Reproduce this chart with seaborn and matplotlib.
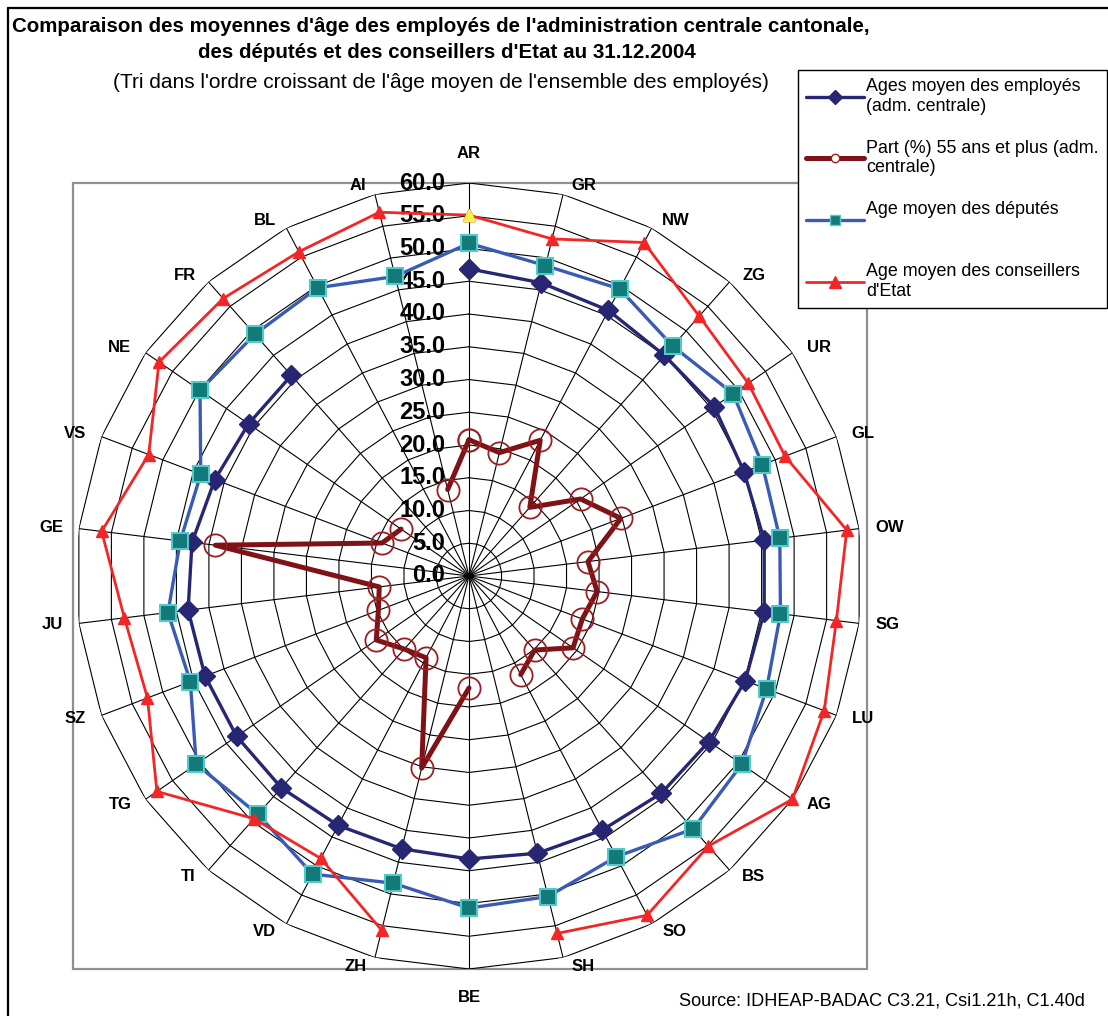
import numpy as np
import matplotlib
matplotlib.use("Agg")
import matplotlib.pyplot as plt
from matplotlib.lines import Line2D
from matplotlib.patches import Rectangle
import seaborn as sns

sns.set_theme(style="white")
plt.rcParams['font.family'] = ['Liberation Sans', 'DejaVu Sans']
plt.rcParams['text.color'] = 'black'

nan = np.nan
cantons = ["AR", "GR", "NW", "ZG", "UR", "GL", "OW", "SG", "LU", "AG", "BS", "SO", "SH",
           "BE", "ZH", "VD", "TI", "TG", "SZ", "JU", "GE", "VS", "NE", "FR", "BL", "AI"]
# age moyen des employes (adm. centrale)
employes = [46.9, 46.1, 45.8, 45.0, 45.5, 44.9, 45.4, 45.4, 45.1, 44.5, 44.3, 43.8, 43.6,
            43.2, 42.9, 43.0, 43.2, 43.1, 43.1, 43.2, 42.6, 41.5, 40.9, 40.9, nan, nan]
# part (%) 55 ans et plus (adm. centrale)
part55 = [20.8, 19.4, 23.4, 14.0, 20.7, 24.8, 18.3, 19.7, 18.5, 19.3, 15.1, 17.0, nan,
          17.1, 30.2, 14.1, 14.9, 17.2, 14.8, 13.8, 39.0, 14.2, 12.6, nan, nan, 13.6]
# age moyen des deputes
deputes = [50.8, 48.8, 49.5, 46.9, 49.0, 47.9, 47.8, 47.9, 48.6, 50.6, 51.6, 48.4, 50.4,
           50.7, 48.3, 51.4, 48.6, 50.6, 45.5, 46.3, 44.4, 43.8, 49.9, 49.3, 49.7, 47.1]
# age moyen des conseillers d'Etat
conseillers = [55.1, 53.0, 57.5, 53.0, 51.8, 51.6, 58.1, 56.5, 58.0, 60.0, 55.1, 58.5, 56.2,
               nan, 55.7, 48.7, 49.5, 57.9, 52.5, 53.0, 56.5, 52.3, 57.5, 56.6, 55.9, 57.2]
rings = [0.0, 5.0, 10.0, 15.0, 20.0, 25.0, 30.0, 35.0, 40.0, 45.0, 50.0, 55.0, 60.0]

W, H = 1108, 1016
PT = 72 / 100  # points per pixel
fig = plt.figure(figsize=(W / 100, H / 100), dpi=100)
fig.patch.set_facecolor("white")

# polar area: centre (469, 576), radius 393 px
cx, cy, R = 469, 576, 393
ax = fig.add_axes([(cx - R) / W, 1 - (cy + R) / H, 2 * R / W, 2 * R / H], projection="polar")
ax.set_theta_zero_location("N")
ax.set_theta_direction(-1)
ax.set_ylim(0, 60)
ax.spines["polar"].set_visible(False)
ax.patch.set_alpha(0)

angles = np.linspace(0, 2 * np.pi, len(cantons), endpoint=False)
th = np.append(angles, angles[0])

def closed(v):
    return np.append(v, v[0])

# web: spokes and polygon rings
ax.set_xticks(angles)
ax.set_xticklabels([])
ax.set_yticks([])
ax.xaxis.grid(True, color="black", lw=0.8)
ax.yaxis.grid(False)
for r in rings[1:]:
    ax.plot(th, [r] * len(th), color="black", lw=0.8, zorder=1)

for r in rings:
    ax.annotate(f"{r:.1f}", xy=(0, r), xytext=(-17, 0), textcoords="offset points",
                ha="right", va="center", fontsize=17, fontweight="bold", color="black",
                zorder=3)

# category labels next to the outer vertex, Excel style
for a, c in zip(angles, cantons):
    s, co = np.sin(a), np.cos(a)
    if abs(s) < 0.05:
        dx, dy, ha = 0, 29 * np.sign(co), "center"
    else:
        dx = np.sign(s) * (6 + 10 * abs(s))
        dy = 9 * co
        ha = "left" if s > 0 else "right"
    ax.annotate(c, xy=(a, 60), xytext=(dx * PT, dy * PT), textcoords="offset points",
                ha=ha, va="center", fontsize=12, fontweight="bold", annotation_clip=False)

navy = "#262673"
dred = "#7F1216"
blue = "#3A5BB5"
red = "#F22626"

ax.plot(th, closed(part55), color=dred, lw=3.6, marker="o", ms=16, mfc="none",
        mec="#9B1E22", mew=1.3, zorder=4, clip_on=False)
ax.plot(th, closed(employes), color=navy, lw=2.4, marker="D", ms=10.5, mfc=navy, mec=navy,
        zorder=5, clip_on=False)
ax.plot(th, closed(deputes), color=blue, lw=2.4, marker="s", ms=11, mfc="#127A78",
        mec="#55C8C8", mew=1.5, zorder=6, clip_on=False)
ax.plot(th, closed(conseillers), color=red, lw=2.0, marker="^", ms=9, mfc=red, mec=red,
        zorder=7, clip_on=False)
ax.plot(angles[0], conseillers[0], marker="^", ms=9, color="#F2F24A", zorder=8, clip_on=False)

# plot-area frame and outer chart border
fig.add_artist(Rectangle((73 / W, 1 - 969 / H), (867 - 73) / W, (969 - 183) / H,
                         transform=fig.transFigure, fill=False, edgecolor="#8f8f8f",
                         lw=1.6, zorder=-1))
fig.add_artist(Line2D([8 / W, 8 / W], [0, 1 - 8 / H], transform=fig.transFigure,
                      color="black", lw=1.6))
fig.add_artist(Line2D([8 / W, 1], [1 - 8 / H, 1 - 8 / H], transform=fig.transFigure,
                      color="black", lw=1.6))

fig.text(441 / W, 1 - 27 / H,
         "Comparaison des moyennes d'âge des employés de l'administration centrale cantonale,",
         ha="center", va="center", fontsize=14.8, fontweight="bold")
fig.text(447 / W, 1 - 52 / H, "des députés et des conseillers d'Etat au 31.12.2004",
         ha="center", va="center", fontsize=14.8, fontweight="bold")
fig.text(441 / W, 1 - 82 / H,
         "(Tri dans l'ordre croissant de l'âge moyen de l'ensemble des employés)",
         ha="center", va="center", fontsize=15)
fig.text(1085 / W, 1 - 1001 / H, "Source: IDHEAP-BADAC C3.21, Csi1.21h, C1.40d",
         ha="right", va="center", fontsize=13.1)

handles = [
    Line2D([], [], color=navy, lw=2.4, marker="D", ms=7, mfc=navy, mec=navy),
    Line2D([], [], color=dred, lw=3.6, marker="o", ms=6, mfc="white", mec="#9B1E22"),
    Line2D([], [], color=blue, lw=2.4, marker="s", ms=7, mfc="#127A78", mec="#55C8C8"),
    Line2D([], [], color=red, lw=2.0, marker="^", ms=8, mfc=red, mec=red),
]
labels = [
    "Ages moyen des employés\n(adm. centrale)",
    "Part (%) 55 ans et plus (adm.\ncentrale)",
    "Age moyen des députés\n ",
    "Age moyen des conseillers\nd'Etat",
]
leg = fig.legend(handles, labels, loc="upper left", bbox_to_anchor=(798 / W, 1 - 70 / H),
                 fontsize=12.9, frameon=True, fancybox=False, framealpha=1,
                 edgecolor="black", handlelength=3.25, handletextpad=0.1,
                 labelspacing=1.4, borderpad=0.45, borderaxespad=0)
leg.get_frame().set_linewidth(1.0)

fig.savefig("out.png", dpi=100)
